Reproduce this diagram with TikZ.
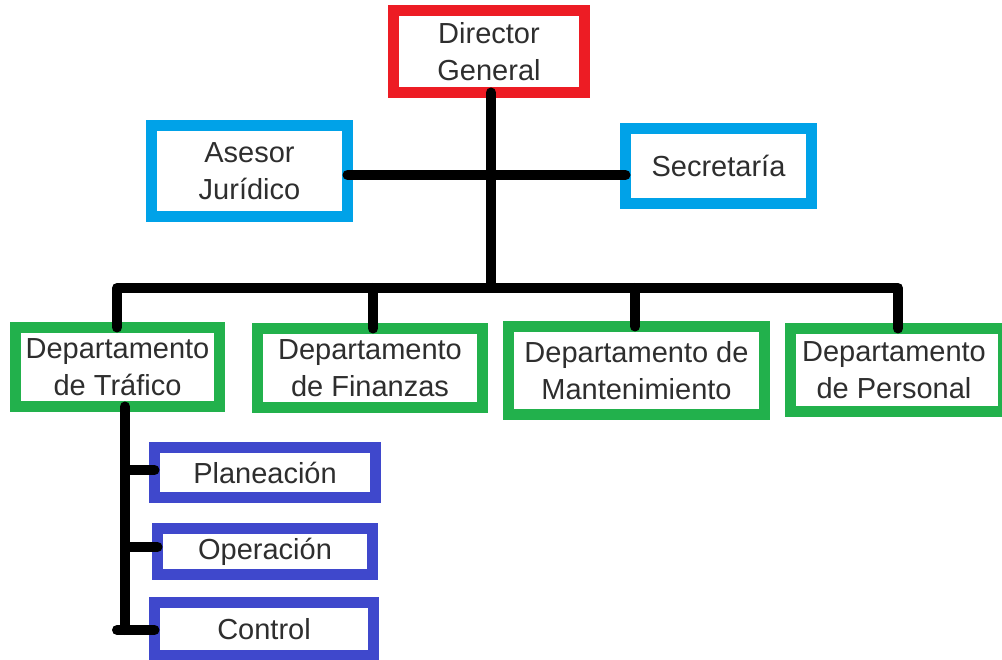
\documentclass[tikz,border=0pt]{standalone}
\usepackage{fontspec}
\setmainfont{Liberation Sans}
\definecolor{pred}{HTML}{ED1C24}
\definecolor{pcyan}{HTML}{00A2E8}
\definecolor{pgreen}{HTML}{22B14C}
\definecolor{pindigo}{HTML}{3F48CC}
\definecolor{txt}{HTML}{2E2E2E}
\tikzset{
  box/.style={draw, line width=11pt, fill=white, inner sep=0pt, outer sep=0pt,
    align=center, text=txt, font=\fontsize{29}{37}\selectfont},
  redbox/.style={box, draw=pred},
  cyanbox/.style={box, draw=pcyan},
  greenbox/.style={box, draw=pgreen},
  indigobox/.style={box, draw=pindigo},
  conn/.style={draw=black, line width=10pt, line cap=round, line join=round},
}
\begin{document}
\begin{tikzpicture}[x=1pt, y=-1pt]
\useasboundingbox (0,0) rectangle (1002,660);
\fill[white] (0,0) rectangle (1002,660);
\clip (0,0) rectangle (1002,660);

% junction coordinates
\coordinate (mid) at (491,175);
\coordinate (bus) at (491,288);
\coordinate (d1) at (117,288);
\coordinate (d2) at (373,288);
\coordinate (d3) at (635,288);
\coordinate (d4) at (898,288);
\coordinate (sv) at (125,470);
\coordinate (s2) at (125,547);
\coordinate (s3) at (125,630);
\coordinate (s3l) at (117,630);

% boxes
\node[redbox, minimum width=191pt, minimum height=82pt] (dir) at (489,51.5) {Director\\General};
\node[cyanbox, minimum width=196pt, minimum height=91pt] (ase) at (249.5,171) {Asesor\\Jurídico};
\node[cyanbox, minimum width=186pt, minimum height=75pt] (sec) at (718.5,166) {Secretaría};
\node[greenbox, minimum width=204pt, minimum height=79pt] (traf) at (117.5,367) {Departamento\\de Tráfico};
\node[greenbox, minimum width=225pt, minimum height=79pt] (fin) at (370,368) {Departamento\\de Finanzas};
\node[greenbox, minimum width=256pt, minimum height=88pt] (mant) at (636.5,370.5) {Departamento de\\Mantenimiento};
\node[greenbox, minimum width=213pt, minimum height=83pt] (pers) at (897,370) {\hspace*{-6pt}Departamento\\\hspace*{-6pt}de Personal};
\node[indigobox, minimum width=221pt, minimum height=50pt] (plan) at (265,472.5) {Planeación};
\node[indigobox, minimum width=215pt, minimum height=46pt] (oper) at (265,551.5) {Operación};
\node[indigobox, minimum width=219pt, minimum height=53pt] (ctrl) at (264,629) {Control};

% trunk from director
\draw[conn] (dir.south -| bus) -- (bus);
% staff line
\draw[conn] (ase.east |- mid) -- (sec.west |- mid);
% department bus
\draw[conn] (d1 |- traf.north) -- (d1) -- (d4) -- (d4 |- pers.north);
\draw[conn] (d2) -- (d2 |- fin.north);
\draw[conn] (d3) -- (d3 |- mant.north);
% sub-departments of Tráfico
\draw[conn] (sv |- traf.south) -- (s3);
\draw[conn] (sv) -- (sv -| plan.west);
\draw[conn] (s2) -- (s2 -| oper.west);
\draw[conn] (s3l) -- (s3l -| ctrl.west);
\end{tikzpicture}
\end{document}
